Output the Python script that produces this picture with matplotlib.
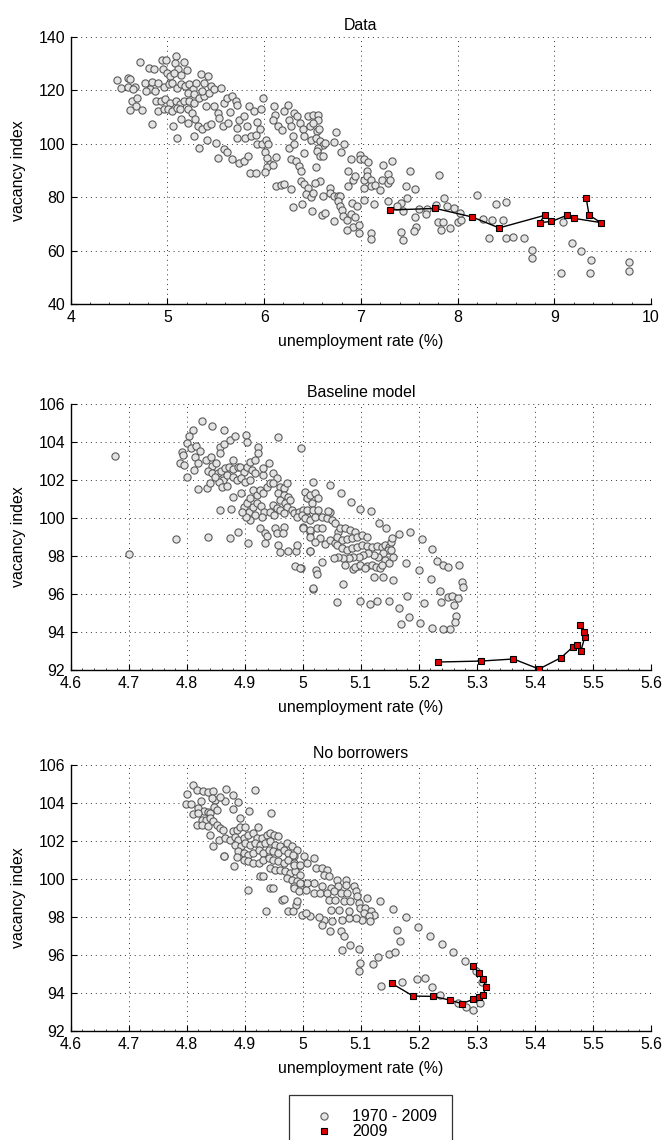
import numpy as np
import matplotlib
matplotlib.use("Agg")
import matplotlib.pyplot as plt
from matplotlib.lines import Line2D
from matplotlib.ticker import FixedLocator, FuncFormatter, AutoMinorLocator

plt.rcParams['font.family'] = ['Liberation Sans', 'DejaVu Sans']
plt.rcParams['font.size'] = 11.4

# ---------------- data ----------------
titles = ["Data", "Baseline model", "No borrowers"]
xlabel = "unemployment rate (%)"
ylabel = "vacancy index"
legend_labels = ["1970 - 2009", "2009"]

x_ticks_top = [4, 5, 6, 7, 8, 9, 10]
y_ticks_top = [40, 60, 80, 100, 120, 140]
x_ticks_model = [4.6, 4.7, 4.8, 4.9, 5.0, 5.1, 5.2, 5.3, 5.4, 5.5, 5.6]
y_ticks_model = [92, 94, 96, 98, 100, 102, 104, 106]

data_pts = [
    (4.48,123.9),(4.52,121.0),(4.59,124.5),(4.61,124.1),(4.59,121.1),(4.66,121.1),(4.64,120.6),
    (4.63,116.0),(4.69,117.3),(4.67,114.1),(4.61,112.6),(4.74,112.5),
    (4.72,130.5),(4.77,122.9),(4.84,123.1),(4.82,120.4),(4.78,119.9),(4.87,119.8),
    (4.81,128.4),(4.86,128.2),(4.94,131.2),(4.99,131.4),(5.09,132.9),(5.17,130.8),(5.08,130.4),(5.11,128.1),
    (4.95,127.9),(5.00,126.6),(5.03,125.4),(5.07,126.6),(5.14,125.6),(5.20,127.6),
    (4.90,122.9),(4.96,121.4),(5.02,122.3),(5.05,122.9),(5.10,121.0),(5.14,122.3),(5.18,121.6),(5.22,122.3),(5.26,120.4),
    (4.88,116.0),(4.93,116.0),(4.98,116.6),(5.03,115.4),(5.09,116.0),(5.13,114.8),(5.17,116.0),(5.22,116.0),(5.27,115.4),
    (4.90,112.3),(4.96,112.9),(5.01,112.9),(5.05,112.3),(5.10,113.5),(5.13,112.9),
    (4.84,107.5),(5.06,106.6),(5.10,102.3),
    (5.14,109.4),(5.21,107.9),(5.28,102.9),(5.33,98.5),
    (5.21,112.9),(5.25,111.6),(5.29,109.4),(5.32,106.6),(5.36,105.4),(5.41,106.6),(5.45,107.3),
    (5.21,119.1),(5.28,118.5),(5.33,117.3),(5.38,117.9),(5.43,119.1),(5.30,122.9),(5.35,126.3),(5.42,125.4),
    (5.38,122.9),(5.45,121.6),(5.48,120.4),(5.55,121.0),
    (5.36,119.8),(5.40,114.1),(5.48,114.1),(5.52,111.6),(5.53,109.8),(5.58,115.4),(5.62,117.3),(5.67,117.9),(5.71,116.0),(5.72,114.4),
    (5.57,106.6),(5.63,107.9),(5.65,111.9),(5.72,106.0),(5.74,109.1),(5.79,110.4),(5.82,106.6),
    (5.41,101.6),(5.50,100.4),(5.59,97.9),(5.62,96.9),(5.52,94.5),(5.67,94.4),(5.74,92.9),(5.79,93.5),(5.83,95.6),(5.85,88.9),(5.92,88.9),
    (5.72,102.1),(5.80,102.3),(5.86,102.8),(5.92,103.4),(5.84,114.1),(5.90,112.3),(5.97,112.9),(5.99,117.0),(5.93,108.1),(5.96,105.6),
    (5.93,99.8),(5.98,99.8),(6.02,101.6),(6.04,99.8),(6.01,96.9),(6.03,94.8),(6.06,92.3),(6.03,91.4),(6.01,89.4),(6.09,92.1),(6.12,94.9),
    (6.12,84.1),(6.17,84.4),(6.21,85.0),(6.28,82.9),(6.30,76.3),(6.39,77.6),
    (6.10,114.1),(6.11,110.9),(6.09,109.0),(6.14,106.5),(6.18,105.3),(6.21,112.1),(6.25,114.6),(6.26,109.0),(6.28,106.5),
    (6.30,102.8),(6.31,111.6),(6.34,110.4),(6.37,107.9),(6.40,105.4),(6.41,102.9),(6.45,110.4),(6.47,106.6),(6.48,101.6),
    (6.26,98.5),(6.31,99.8),(6.28,94.3),(6.33,93.6),(6.36,91.8),(6.38,89.9),(6.38,86.1),(6.41,84.9),(6.45,83.6),(6.43,81.1),(6.48,79.9),(6.41,96.4),
    (6.51,110.7),(6.56,110.7),(6.56,108.9),(6.51,107.9),(6.55,104.8),(6.57,105.4),(6.54,102.3),(6.58,101.0),(6.61,99.7),(6.63,100.4),
    (6.56,98.5),(6.55,97.2),(6.58,95.4),(6.61,95.4),(6.74,104.5),(6.72,100.6),(6.83,100.0),(6.79,97.0),(6.90,94.4),(6.99,95.9),
    (6.99,94.4),(7.03,94.4),(7.07,93.1),(6.54,91.2),(6.58,86.0),(6.53,85.3),(6.51,81.6),(6.49,74.7),(6.60,73.4),(6.63,74.1),
    (6.61,80.3),(6.68,83.5),(6.68,81.6),(6.72,80.3),(6.76,80.3),(6.78,80.6),(6.76,78.4),(6.78,76.6),(6.81,75.1),(6.72,70.9),
    (6.82,72.8),(6.86,71.6),(6.90,73.8),(6.94,72.6),(6.92,69.0),(6.86,67.8),(6.98,69.7),(6.98,66.5),(6.91,77.8),(6.96,76.6),
    (6.87,84.1),(6.87,89.7),(6.92,86.3),(6.94,88.1),(7.03,86.3),(7.06,89.7),(7.06,87.8),(7.10,86.6),(7.11,84.1),(7.03,78.8),
    (7.14,77.6),(7.10,66.5),(7.10,64.3),(7.03,83.5),(7.15,84.7),(7.20,82.8),(7.22,86.6),(7.23,91.9),(7.28,88.8),(7.28,85.3),
    (7.30,86.6),(7.32,93.5),(7.28,78.7),(7.41,77.8),(7.44,74.7),(7.42,66.8),(7.44,63.8),(7.37,76.6),(7.47,84.1),(7.51,89.7),
    (7.56,83.2),(7.48,79.7),(7.56,72.6),(7.57,69.0),(7.55,67.5),(7.60,75.6),(7.68,75.6),(7.67,73.6),(7.78,77.2),(7.81,88.2),
    (7.80,70.6),(7.85,70.6),(7.83,67.8),(7.86,79.6),(7.89,76.6),(7.92,68.4),(7.96,75.9),(8.00,70.6),(8.04,71.3),(8.02,74.1),
    (8.20,81.0),(8.26,71.8),(8.36,71.3),(8.40,77.6),(8.47,71.3),(8.50,78.2),(8.32,64.8),(8.50,64.8),(8.57,65.0),(8.69,64.7),
    (8.77,60.3),(8.77,57.4),(9.09,70.6),(9.18,62.8),(9.28,59.9),(9.38,56.5),(9.37,51.5),(9.07,51.5),(9.77,55.6),(9.77,52.3),
]
data09_u = [7.30, 7.77, 8.15, 8.43, 8.90, 8.85, 8.97, 9.13, 9.20, 9.48, 9.36, 9.33]
data09_v = [75.2, 75.8, 72.6, 68.5, 73.2, 70.5, 70.9, 73.2, 72.1, 70.5, 73.3, 79.6]

base_pts = [
    (4.677,103.25),(4.700,98.09),(4.782,98.89),(4.826,105.1),(4.844,104.86),(4.864,104.63),(4.810,104.63),
    (4.803,104.33),(4.801,103.96),(4.807,103.67),(4.816,103.79),(4.822,103.54),
    (4.791,103.47),(4.794,103.32),(4.789,102.91),(4.795,102.79),(4.800,102.18),
    (4.814,103.23),(4.820,102.91),(4.813,102.53),(4.819,101.54),(4.835,101.56),
    (4.833,103.05),(4.842,103.19),(4.844,102.74),(4.850,102.88),(4.837,102.49),(4.844,102.35),(4.853,102.39),(4.859,102.49),
    (4.863,102.0),(4.855,101.91),(4.840,101.82),(4.849,102.14),
    (4.858,103.72),(4.865,103.88),(4.857,103.44),(4.875,104.1),(4.883,104.32),(4.880,103.05),
    (4.866,102.61),(4.873,102.67),(4.880,102.56),(4.888,102.67),(4.869,102.26),(4.879,102.18),(4.886,102.0),(4.860,101.65),
    (4.869,101.68),(4.879,101.12),(4.858,100.42),(4.876,100.47),(4.874,98.93),(4.889,99.25),(4.906,98.70),(4.836,99.02),
    (4.892,102.7),(4.898,102.44),(4.903,102.67),(4.902,104.37),(4.903,104.02),(4.909,102.96),(4.912,102.53),(4.918,103.05),
    (4.893,102.09),(4.900,101.91),(4.909,102.0),(4.918,102.35),(4.923,103.75),(4.923,103.4),(4.931,102.26),(4.942,102.91),(4.932,102.61),
    (4.893,101.3),(4.898,100.6),(4.903,100.81),(4.909,101.04),(4.914,101.47),(4.921,101.21),(4.926,101.47),(4.932,101.3),
    (4.938,101.65),(4.943,101.82),(4.908,100.33),(4.914,100.6),(4.921,100.77),(4.928,100.63),(4.933,100.33),(4.929,100.07),
    (4.918,100.16),(4.909,99.89),(4.902,100.07),(4.895,100.33),
    (4.948,102.35),(4.955,102.09),(4.949,101.86),(4.960,101.65),(4.967,101.56),(4.972,101.82),(4.958,101.30),(4.967,101.21),
    (4.975,101.12),(4.961,100.95),(4.970,100.77),(4.978,100.95),(4.949,100.68),(4.955,100.51),(4.944,100.33),(4.951,100.16),
    (4.961,100.42),(4.972,100.6),(4.981,100.42),(4.967,100.25),(4.984,100.25),(4.993,100.33),(5.001,100.42),(4.990,100.07),
    (4.998,100.16),(5.007,100.07),(4.958,104.28),(4.997,103.67),
    (4.926,99.49),(4.935,99.23),(4.939,99.05),(4.952,99.49),(4.967,99.54),(4.956,99.19),(4.966,99.19),(4.934,98.67),
    (4.958,98.6),(4.960,98.19),(4.975,98.26),(4.988,98.26),(4.990,98.6),(4.987,97.49),(4.997,97.39),(5.013,98.26),
    (5.013,99.26),(5.001,99.54),
    (5.018,101.88),(5.046,101.74),(5.065,101.3),(5.083,100.86),(5.099,100.47),(5.117,100.37),(5.131,99.72),(5.144,99.46),
    (5.165,99.16),(5.185,99.28),(5.205,98.88),(5.222,98.39),(5.232,97.75),(5.242,97.51),(5.251,97.4),(5.269,97.53),
    (5.275,96.61),(5.276,96.39),(5.200,97.26),(5.178,97.61),(5.221,96.77),(5.237,96.16),(5.251,95.86),(5.257,95.91),
    (5.268,95.77),(5.261,95.42),(5.264,94.84),(5.262,94.54),(5.254,94.18),(5.241,94.18),(5.223,94.23),
    (5.209,95.51),(5.180,95.89),(5.165,95.25),(5.148,95.63),(5.127,95.65),(5.116,95.47),(5.099,95.63),(5.059,95.58),
    (5.069,96.53),(5.018,96.25),(5.183,94.81),(5.170,94.4),(5.202,94.46),(5.238,95.6),
    (5.156,96.74),(5.139,96.88),(5.123,96.91),(5.110,97.47),(5.096,97.47),(5.087,97.3),(5.073,97.53),
    (5.023,97.26),(5.025,97.04),(5.013,98.26),(4.995,97.39),(5.033,97.67),(5.017,96.3),
    (5.004,101.39),(5.007,101.04),(5.013,101.21),(5.021,101.3),(5.027,101.04),(5.015,100.77),(5.008,100.42),(5.018,100.42),
    (5.027,100.42),(5.004,99.98),(5.013,99.89),(5.021,100.07),(5.033,100.07),(5.041,99.98),(5.050,99.89),(5.056,99.72),
    (5.047,100.33),(5.044,100.37),(5.001,99.46),(5.013,99.37),(5.024,99.46),(5.033,99.46),(5.013,99.02),(5.030,98.93),
    (5.021,98.75),(5.038,98.63),(5.047,98.84),(5.056,98.67),(5.061,99.28),(5.064,99.46),(5.073,99.46),(5.082,99.37),
    (5.090,99.28),(5.059,99.02),(5.067,98.84),(5.076,98.88),(5.084,98.93),(5.093,99.02),(5.102,99.11),(5.110,99.02),
    (5.059,98.58),(5.067,98.40),(5.076,98.32),(5.084,98.40),(5.093,98.49),(5.102,98.58),(5.110,98.53),(5.119,98.49),
    (5.127,98.53),(5.136,98.49),(5.142,98.58),(5.149,98.49),(5.152,98.75),(5.153,98.93),(5.146,98.32),(5.139,98.14),
    (5.130,97.96),(5.122,98.05),(5.113,98.14),(5.104,98.05),(5.096,97.96),(5.087,97.96),(5.079,97.88),(5.070,97.88),
    (5.061,97.96),(5.053,97.88),(5.090,97.44),(5.099,97.53),(5.107,97.35),(5.119,97.53),(5.126,97.44),(5.133,97.35),
    (5.142,97.79),(5.148,97.61),(5.156,97.96),(5.152,98.32),(5.136,97.53),
]
base09_u = [5.233, 5.307, 5.363, 5.407, 5.445, 5.465, 5.472, 5.479, 5.486, 5.484, 5.478]
base09_v = [92.42, 92.47, 92.58, 92.05, 92.65, 93.20, 93.30, 92.98, 93.75, 94.00, 94.35]

nob_pts = [
    (4.811,104.93),(4.801,104.49),(4.817,104.7),(4.828,104.61),(4.837,104.56),(4.845,104.63),(4.849,104.18),(4.843,104.26),
    (4.868,104.75),(4.880,104.44),(4.888,104.04),(4.880,103.68),(4.866,104.09),(4.858,104.32),(4.918,104.67),(4.908,103.58),
    (4.892,103.23),(4.922,102.75),(4.946,103.47),
    (4.799,103.95),(4.807,103.95),(4.810,103.44),(4.820,103.74),(4.824,104.09),(4.829,103.56),(4.836,103.51),(4.840,103.47),
    (4.847,103.79),(4.852,103.65),(4.820,103.47),(4.826,103.12),(4.833,103.12),(4.840,103.21),(4.817,102.86),(4.827,102.86),
    (4.837,102.77),(4.846,103.04),(4.852,102.86),(4.857,102.68),(4.863,102.6),(4.840,102.33),(4.855,102.04),(4.846,101.75),
    (4.865,101.19),(4.882,100.67),
    (4.866,102.16),(4.875,102.07),(4.880,102.51),(4.886,102.6),(4.892,102.74),(4.901,102.74),(4.883,102.21),(4.889,102.07),
    (4.898,102.16),(4.906,102.33),(4.914,102.42),(4.921,102.16),(4.929,102.16),(4.938,102.33),(4.944,102.42),(4.951,102.33),
    (4.958,102.24),(4.883,101.81),(4.893,101.72),(4.901,101.89),(4.909,101.81),(4.918,101.89),(4.926,101.81),(4.935,101.89),
    (4.944,101.98),(4.952,101.81),(4.961,101.72),(4.972,101.89),(4.981,101.72),(4.990,101.54),(4.889,101.46),(4.898,101.37),
    (4.906,101.28),(4.915,101.37),(4.924,101.54),(4.932,101.37),(4.941,101.54),(4.949,101.46),(4.958,101.37),(4.967,101.54),
    (4.975,101.37),(4.984,101.19),(4.898,101.02),(4.906,100.93),(4.915,100.84),(4.924,100.84),(4.932,101.02),(4.941,101.11),
    (4.949,101.02),(4.958,100.93),(4.967,100.84),(4.975,101.02),(4.984,100.84),(4.993,100.67),(4.944,100.58),(4.952,100.49),
    (4.961,100.49),(4.970,100.40),(4.978,100.32),(4.987,100.40),(4.995,100.23),(4.972,100.05),(4.981,99.96),(4.990,99.88),
    (4.926,100.14),(4.932,100.14),(4.905,99.44),(4.944,99.51),(4.949,99.54),(4.964,98.88),(4.967,98.95),(4.989,98.65),
    (4.937,98.32),(4.975,98.30),(4.984,99.61),(4.995,99.54),(4.864,101.19),(4.886,101.16),
    (4.983,101.28),(5.002,101.19),(5.020,101.11),(4.984,100.75),(4.996,100.75),(5.007,100.84),(5.022,100.58),(5.033,100.58),
    (5.042,100.49),(5.036,100.23),(5.045,100.14),(5.059,99.96),(5.074,99.96),(5.088,99.65),(5.091,99.35),(5.094,99.09),
    (5.074,99.70),(5.060,99.61),(5.048,99.53),(5.033,99.61),(5.019,99.79),(5.007,99.79),(4.996,99.79),(4.984,99.53),
    (4.993,99.35),(5.005,99.44),(5.019,99.26),(5.030,99.26),(5.042,99.26),(5.053,99.35),(5.065,99.26),(5.076,99.26),
    (5.045,98.91),(5.056,98.91),(5.071,98.82),(5.082,98.82),(5.097,98.74),(5.111,99.0),(5.133,98.82),(5.099,98.47),
    (5.108,98.47),(5.117,98.30),(5.122,98.12),(5.105,98.21),(5.114,98.04),(5.116,97.77),(5.102,97.86),(5.091,97.95),
    (5.079,97.95),(5.068,97.82),(5.051,97.77),(5.036,97.86),(5.028,97.98),(5.013,98.04),(4.999,98.12),(4.990,98.82),
    (5.005,98.21),(4.983,98.30),(5.048,98.39),(5.062,98.39),(5.079,98.30),(5.033,97.60),(5.047,97.25),(5.065,97.25),
    (5.071,96.98),(5.082,96.54),(5.068,96.28),(5.097,96.32),(5.099,95.58),(5.097,95.14),(5.121,95.54),(5.129,95.89),
    (5.134,94.35),(5.156,98.44),(5.177,97.98),(5.198,97.49),(5.219,97.02),(5.239,96.58),(5.259,96.14),(5.279,95.68),
    (5.163,97.33),(5.167,96.75),(5.148,96.05),(5.159,96.14),(5.171,94.58),(5.196,94.74),(5.211,94.77),(5.222,94.33),
    (5.237,93.91),(5.267,93.47),(5.282,93.26),(5.294,93.09),(5.305,93.47),(5.309,94.56),(5.299,95.14),
]
nob09_u = [5.153, 5.190, 5.225, 5.253, 5.274, 5.294, 5.304, 5.311, 5.315, 5.311, 5.304, 5.294]
nob09_v = [94.51, 93.84, 93.82, 93.63, 93.44, 93.67, 93.81, 93.88, 94.33, 94.72, 95.05, 95.40]

# ---------------- styling ----------------
grey_face = '#e4e4e4'
grey_edge = '#5a5a5a'
red_face = '#e00000'
FS = 11.4

W, H = 665, 1140
fig = plt.figure(figsize=(W / 100, H / 100), dpi=100)

left = 70.7 / W
width = (651 - 70.7) / W
panels_px = [(37, 304), (404, 670), (765, 1031)]

series = [
    (data_pts, data09_u, data09_v, (4, 10), (40, 140), x_ticks_top, y_ticks_top),
    (base_pts, base09_u, base09_v, (4.6, 5.6), (92, 106), x_ticks_model, y_ticks_model),
    (nob_pts, nob09_u, nob09_v, (4.6, 5.6), (92, 106), x_ticks_model, y_ticks_model),
]

fmt = FuncFormatter(lambda v, p: f"{v:g}")

for i, ((top, bot), (pts, u9, v9, xl, yl, xt, yt)) in enumerate(zip(panels_px, series)):
    ax = fig.add_axes([left, 1 - bot / H, width, (bot - top) / H])
    arr = np.array(pts)
    ax.plot(arr[:, 0], arr[:, 1], linestyle='none', marker='o', markersize=5.2,
            markerfacecolor=grey_face, markeredgecolor=grey_edge, markeredgewidth=0.8, zorder=3)
    ax.plot(u9, v9, color='black', linewidth=1.0, marker='s', markersize=4.2,
            markerfacecolor=red_face, markeredgecolor='black', markeredgewidth=0.8, zorder=4)
    ax.set_xlim(*xl)
    ax.set_ylim(*yl)
    ax.xaxis.set_major_locator(FixedLocator(xt))
    ax.yaxis.set_major_locator(FixedLocator(yt))
    ax.xaxis.set_major_formatter(fmt)
    ax.yaxis.set_major_formatter(fmt)
    ax.xaxis.set_minor_locator(AutoMinorLocator(5))
    ax.grid(True, which='major', color='#333333', linestyle=(0, (1, 4)), linewidth=0.7)
    ax.set_axisbelow(True)
    ax.spines['top'].set_visible(False)
    ax.spines['right'].set_visible(False)
    ax.spines['left'].set_linewidth(1.0)
    ax.spines['bottom'].set_linewidth(1.0)
    ax.tick_params(which='major', direction='in', length=4, width=0.8, labelsize=FS)
    ax.tick_params(which='minor', direction='in', length=1.5, width=0.5)
    ax.tick_params(axis='x', which='major', pad=4.5)
    ax.tick_params(axis='y', which='major', pad=4)
    ax.set_title(titles[i], fontsize=FS, pad=5)
    ax.set_xlabel(xlabel, fontsize=FS, labelpad=6)
    ax.set_ylabel(ylabel, fontsize=FS, labelpad=9)

handles = [
    Line2D([], [], linestyle='none', marker='o', markersize=5.2,
           markerfacecolor=grey_face, markeredgecolor=grey_edge, markeredgewidth=0.8),
    Line2D([], [], linestyle='none', marker='s', markersize=4.2,
           markerfacecolor=red_face, markeredgecolor='black', markeredgewidth=0.8),
]
leg = fig.legend(handles, legend_labels, loc='upper left', bbox_to_anchor=(289 / W, 1 - 1095 / H),
                 fontsize=FS, frameon=True, fancybox=False, edgecolor='black',
                 labelspacing=0.0, borderpad=0.9, handlelength=2.6, handletextpad=0.5,
                 borderaxespad=0)
leg.get_frame().set_linewidth(0.9)

fig.savefig("out.png", dpi=100)
